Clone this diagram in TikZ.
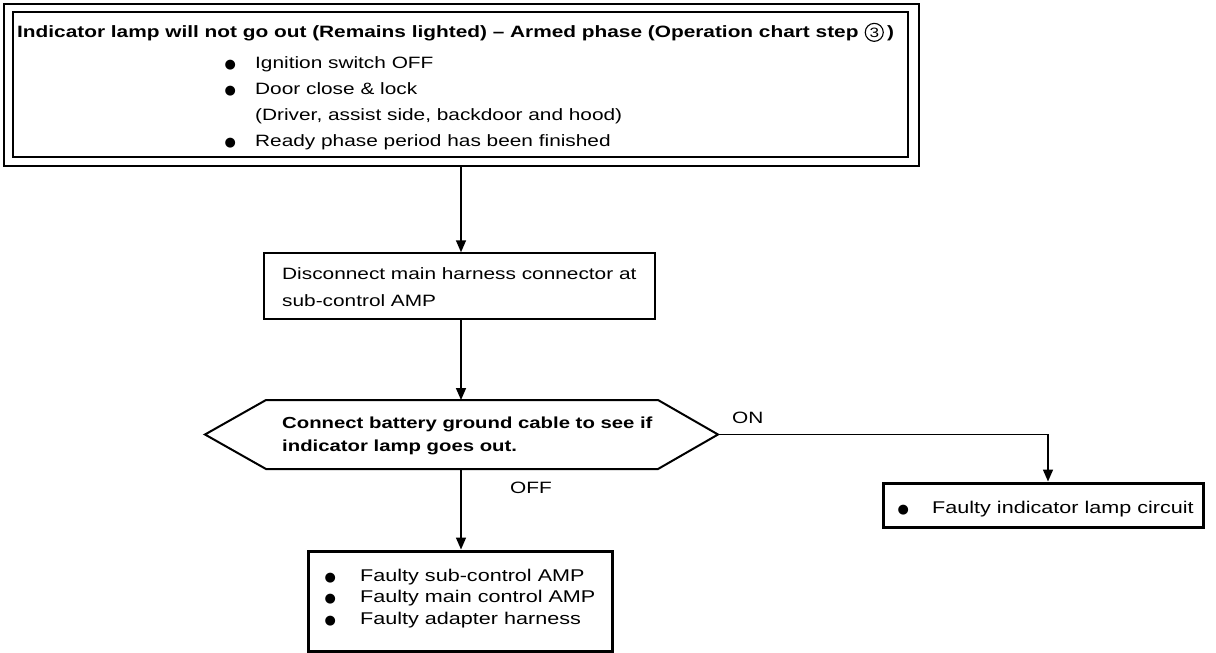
\documentclass[tikz,border=0pt]{standalone}
\usepackage{fontspec}
\setmainfont{Liberation Sans}[FakeStretch=1.27]
\newfontfamily\symfont{DejaVu Sans}
\usetikzlibrary{arrows.meta}
\newcommand{\bul}{\makebox[0pt][c]{{\symfont\fontsize{13}{13}\selectfont ●}}}
\begin{document}
\begin{tikzpicture}[x=1pt,y=-1pt,
  box/.style={draw, line width=1.5pt, inner sep=0pt},
  thickbox/.style={draw, line width=3pt, inner sep=0pt},
  arr/.style={line width=1.6pt, -{Triangle[length=12pt,width=10pt]}},
  txt/.style={anchor=base west, inner sep=0pt, font=\fontsize{16.4}{26}\selectfont},
  btxt/.style={anchor=base west, inner sep=0pt, font=\bfseries\fontsize{16}{23}\selectfont},
  ftxt/.style={anchor=base west, inner sep=0pt, font=\fontsize{17}{21.5}\selectfont}
]
\useasboundingbox (0,0) rectangle (1216,653);

% top double box
\node[box, line width=2.6pt, minimum width=915pt, minimum height=162pt] (topo) at (461.5,85) {};
\node[box, line width=2pt, minimum width=895pt, minimum height=145pt] (topi) at (460.5,84.5) {};
\node[btxt, font=\bfseries\fontsize{16.4}{20}\selectfont] (title) at (17,37)
  {Indicator lamp will not go out (Remains lighted) – Armed phase (Operation chart step};
\node[draw, circle, line width=1.1pt, inner sep=0pt, minimum size=18pt,
      font=\fontsize{13.5}{13.5}\selectfont, anchor=base west] (c3) at ([xshift=6pt]title.base east) {3};
\node[btxt, font=\bfseries\fontsize{16.4}{20}\selectfont] (rp) at ([xshift=3pt]c3.base east) {)};
\node[txt] (conds) at (230,68) {\begin{tabular}[t]{@{}l@{}}
  \bul\hspace{25pt}Ignition switch OFF\\
  \bul\hspace{25pt}Door close \& lock\\
  \hspace{25pt}(Driver, assist side, backdoor and hood)\\
  \bul\hspace{25pt}Ready phase period has been finished
  \end{tabular}};

% step box
\node[box, minimum width=391pt, minimum height=66pt] (b2) at (459.5,286) {};
\node[txt, font=\fontsize{16.4}{27}\selectfont] (b2t) at (282,279) {\begin{tabular}[t]{@{}l@{}}
  Disconnect main harness connector at\\
  sub-control AMP
  \end{tabular}};

% decision hexagon
\coordinate (hL) at (205,434.5);
\coordinate (hR) at (718,434.5);
\coordinate (hT) at (461,400);
\coordinate (hB) at (461,469);
\draw[line width=2pt, line join=miter] (hL) -- (266,400) -- (658,400) -- (hR) -- (658,469) -- (266,469) -- cycle;
\node[btxt] (dect) at (282,428) {\begin{tabular}[t]{@{}l@{}}
  Connect battery ground cable to see if\\
  indicator lamp goes out.
  \end{tabular}};

\node[txt] (on) at (732,423) {ON};
\node[txt] (off) at (510,493) {OFF};

% result boxes
\node[thickbox, minimum width=304pt, minimum height=100pt] (b3) at (460,601) {};
\node[ftxt] (b3t) at (330,581) {\begin{tabular}[t]{@{}l@{}}
  \bul\hspace{30pt}Faulty sub-control AMP\\
  \bul\hspace{30pt}Faulty main control AMP\\
  \bul\hspace{30pt}Faulty adapter harness
  \end{tabular}};

\node[thickbox, minimum width=320pt, minimum height=44pt] (rb) at (1043,505) {};
\node[ftxt] (rbt) at (903,513) {\bul\hspace{29pt}Faulty indicator lamp circuit};

% connectors
\draw[arr] (hT |- topo.south) -- (hT |- b2.north);
\draw[arr] (hT |- b2.south) -- (hT);
\draw[arr] (hB) -- (hB |- b3.north);
\draw[arr] (hR) -| ([xshift=5pt]rb.north);
\end{tikzpicture}
\end{document}
